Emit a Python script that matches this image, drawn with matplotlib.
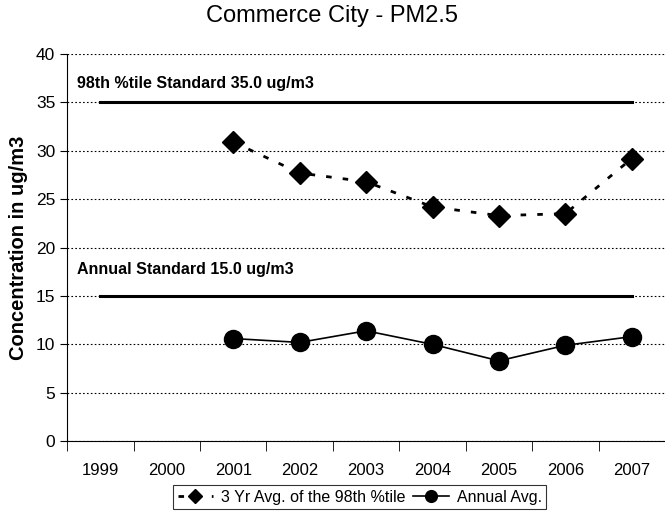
import numpy as np
import matplotlib.pyplot as plt

plt.rcParams['font.family'] = ['Liberation Sans', 'DejaVu Sans']

years = ['1999', '2000', '2001', '2002', '2003', '2004', '2005', '2006', '2007']
pct98_years = ['2001', '2002', '2003', '2004', '2005', '2006', '2007']
pct98_avg = [30.9, 27.7, 26.8, 24.2, 23.3, 23.5, 29.2]
annual_avg = [10.6, 10.2, 11.4, 10.0, 8.3, 9.9, 10.8]
std_98 = 35.0
std_annual = 15.0

x = np.arange(len(years))
xs = [years.index(y) for y in pct98_years]

fig = plt.figure(figsize=(6.65, 5.19), dpi=100)
ax = fig.add_axes([0.101, 0.150, 0.899, 0.746])

# standards, from first to last year
ax.plot([x[0], x[-1]], [std_98, std_98], color='black', lw=2.2)
ax.plot([x[0], x[-1]], [std_annual, std_annual], color='black', lw=2.2)

ax.plot(xs, pct98_avg, color='black', ls=(0, (2, 4)), lw=2,
        marker='D', ms=11, label='3 Yr Avg. of the 98th %tile')
ax.plot(xs, annual_avg, color='black', lw=1.2,
        marker='o', ms=13, label='Annual Avg.')

ax.text(-0.35, 37.0, '98th %tile Standard 35.0 ug/m3', fontsize=11.5,
        fontweight='bold', va='center')
ax.text(-0.35, 17.7, 'Annual Standard 15.0 ug/m3', fontsize=11.5,
        fontweight='bold', va='center')

ax.set_xlim(-0.5, len(years) - 0.5)
ax.set_ylim(0, 40)
ax.set_yticks(np.arange(0, 41, 5))
ax.set_xticks(x)
ax.set_xticklabels(years, fontsize=12)
ax.set_xticks(np.arange(-0.5, len(years), 1), minor=True)
ax.tick_params(axis='x', which='major', length=0, pad=16)
ax.tick_params(axis='x', which='minor', length=7, direction='out')
ax.tick_params(axis='y', labelsize=12.5, length=5, direction='out')
ax.yaxis.grid(True, color='black', ls=(0, (1.5, 2)), lw=0.8)
ax.set_axisbelow(True)
for s in ['top', 'right']:
    ax.spines[s].set_visible(False)

ax.set_ylabel('Concentration in ug/m3', fontsize=14.5, fontweight='bold', labelpad=6)
fig.suptitle('Commerce City - PM2.5', fontsize=17, y=0.99)

leg = fig.legend(loc='lower center', bbox_to_anchor=(0.541, 0.003), ncol=2,
                 fontsize=11.5, frameon=True, fancybox=False, edgecolor='black',
                 handlelength=2.2, columnspacing=0.5, handletextpad=0.5,
                 borderpad=0.3, markerscale=0.65)
leg.get_frame().set_linewidth(0.8)

fig.savefig('out.png', dpi=100)
